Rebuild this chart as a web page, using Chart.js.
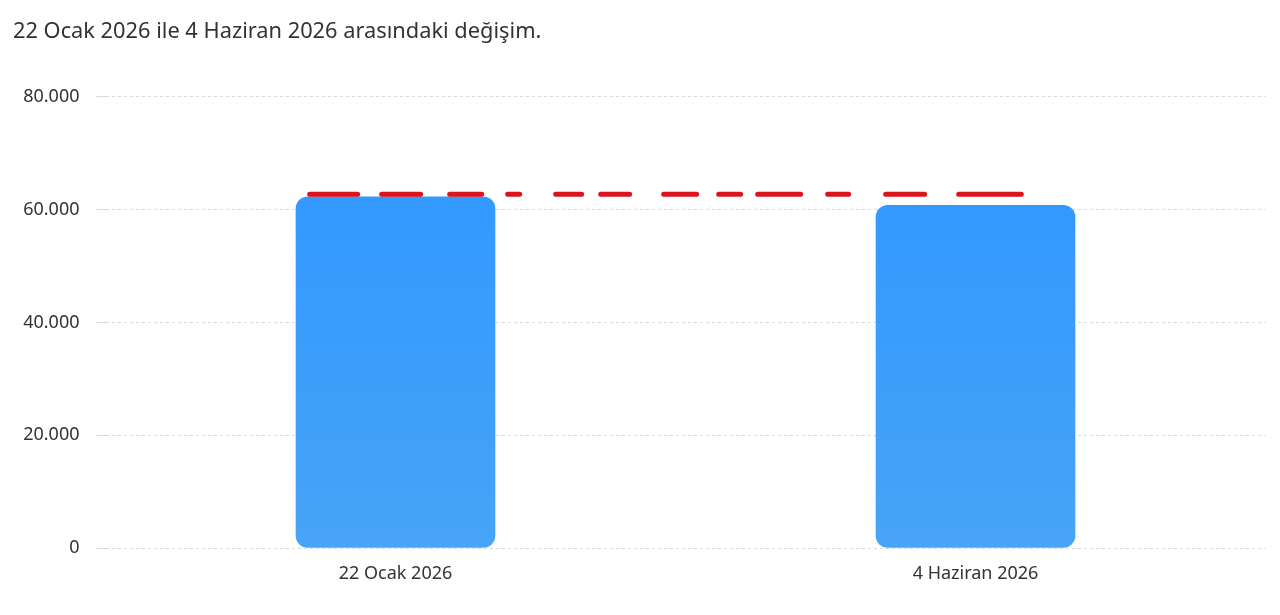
<!DOCTYPE html>
<html>
<head>
<meta charset="utf-8">
<script src="https://cdn.jsdelivr.net/npm/chart.js@4/dist/chart.umd.min.js"></script>
<style>
html,body{margin:0;padding:0;background:#fff;overflow:hidden;}
#wrap{width:1280px;height:615px;position:relative;}
</style>
</head>
<body>
<div id="wrap"><canvas id="c"></canvas></div>
<script>
const titleText = '22 Ocak 2026 ile 4 Haziran 2026 arasındaki değişim.';
const categories = ['22 Ocak 2026', '4 Haziran 2026'];
const values = [62300, 60800];
const refValue = [62750, 62750];
const refIndexSpan = [-0.148, 1.079];
const yTicks = [0, 20000, 40000, 60000, 80000];

function fmt(v){ return String(v).replace(/\B(?=(\d{3})+(?!\d))/g, '.'); }

const FONT = "'Noto Sans', 'Open Sans', sans-serif";

new Chart(document.getElementById('c'), {
  type: 'bar',
  data: {
    labels: categories,
    datasets: [
      {
        type: 'line',
        xAxisID: 'x2',
        data: refIndexSpan.map((x, i) => ({x: x, y: refValue[i]})),
        borderColor: '#dc141e',
        borderWidth: 5,
        borderCapStyle: 'round',
        borderDash: [48,24, 39,29, 32,26, 12,36, 26,19, 29,34, 33,22, 22,17, 43,27, 21,37, 39,34, 63,200],
        pointRadius: 0,
        fill: false,
        order: 0
      },
      {
        type: 'bar',
        data: values,
        grouped: false,
        backgroundColor: (ctx) => {
          const ca = ctx.chart.chartArea;
          if (!ca) return '#3a9cfb';
          const g = ctx.chart.ctx.createLinearGradient(0, ca.top + 100, 0, ca.bottom);
          g.addColorStop(0, '#3399ff');
          g.addColorStop(1, '#47a4f6');
          return g;
        },
        borderRadius: 12,
        borderSkipped: false,
        barThickness: 199,
        order: 1
      }
    ]
  },
  options: {
    responsive: true,
    maintainAspectRatio: false,
    animation: false,
    layout: { padding: { left: 13, right: 14.5, top: 0, bottom: 15.4 } },
    plugins: {
      legend: { display: false },
      tooltip: { enabled: false },
      title: {
        display: true,
        text: titleText,
        align: 'start',
        color: '#333',
        font: { family: FONT, size: 21.8, weight: 'normal' },
        padding: { top: 19, bottom: 51.8 }
      }
    },
    scales: {
      x: {
        grid: { display: false, drawTicks: false },
        border: { display: false },
        ticks: { color: '#333', font: { family: FONT, size: 18 }, padding: 15 }
      },
      x2: {
        type: 'linear',
        display: true,
        position: 'top',
        offset: false,
        min: -0.5,
        max: 1.5,
        grid: { display: false, drawTicks: false },
        border: { display: false },
        ticks: { display: false }
      },
      y: {
        min: 0,
        max: 80000,
        afterBuildTicks: (s) => { s.ticks = yTicks.map(v => ({value: v})); },
        afterFit: (s) => { s.width = 92.5; },
        grid: { color: '#dadada', tickColor: '#dadada', drawTicks: true, tickLength: 10, lineWidth: 1 },
        border: { display: false, dash: [3, 3] },
        ticks: { color: '#333', font: { family: FONT, size: 18 }, padding: 16, callback: (v) => fmt(v) }
      }
    }
  }
});
</script>
</body>
</html>
